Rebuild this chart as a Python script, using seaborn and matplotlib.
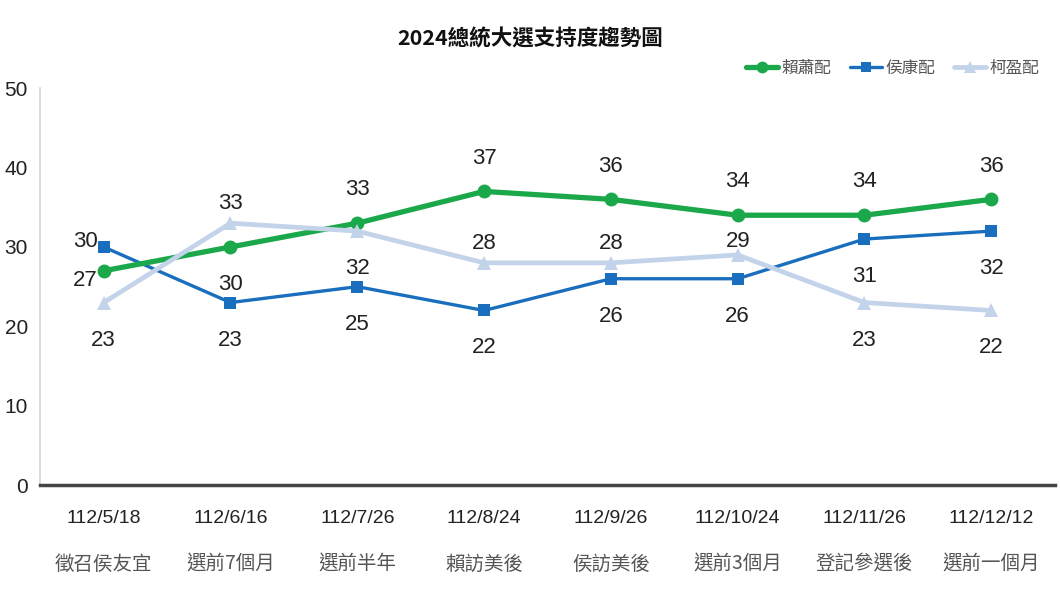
import numpy as np
import pandas as pd
import matplotlib
matplotlib.use('Agg')
import matplotlib.pyplot as plt
import matplotlib.transforms as mtransforms
import seaborn as sns

# data
dates = ['112/5/18', '112/6/16', '112/7/26', '112/8/24',
         '112/9/26', '112/10/24', '112/11/26', '112/12/12']
events = ['徵召侯友宜', '選前7個月', '選前半年', '賴訪美後',
          '侯訪美後', '選前3個月', '登記參選後', '選前一個月']
lai = [27, 30, 33, 37, 36, 34, 34, 36]
hou = [30, 23, 25, 22, 26, 26, 31, 32]
ko = [23, 33, 32, 28, 28, 29, 23, 22]
names = ['賴蕭配', '侯康配', '柯盈配']

sns.set_theme(style='white')
plt.rcParams['font.family'] = ['Liberation Sans', 'Noto Sans CJK TC']
cjk = ['Noto Sans CJK TC', 'DejaVu Sans']

green = '#1BA84A'
blue = '#1A6EBE'
light = '#C3D3E9'

df = pd.DataFrame({'pos': np.arange(len(dates)), names[0]: lai, names[1]: hou, names[2]: ko})

fig = plt.figure(figsize=(10.6, 5.96), dpi=100, facecolor='white')
ax = fig.add_axes([0.038, 0.186, 0.957, 0.666])

styles = {
    names[0]: dict(color=green, marker='o', linewidth=3.8, markersize=10, zorder=4),
    names[1]: dict(color=blue, marker='s', linewidth=2.4, markersize=9, zorder=3),
    names[2]: dict(color=light, marker='^', linewidth=3.4, markersize=10, zorder=5),
}
for n in [names[1], names[0], names[2]]:
    st = styles[n]
    sns.lineplot(data=df, x='pos', y=n, ax=ax, label=n, color=st['color'], marker=st['marker'],
                 linewidth=st['linewidth'], markersize=st['markersize'], markeredgewidth=0,
                 zorder=st['zorder'])

# label placement: 'a' above, 'b' below, 'm'/'s' slightly above, 'lu' left-up, 'ld' left-down
place = {
    names[0]: ['ld', 'b', 'a', 'a', 'a', 'a', 'a', 'a'],
    names[1]: ['lu', 'b', 'b', 'b', 'b', 'b', 'b', 'b'],
    names[2]: ['b', 'm', 'b', 'm', 'm', 's', 'b', 'b'],
}
offsets = {'a': (0, 24), 'm': (0, 14), 's': (0, 10), 'b': (0, -27),
           'lu': (-13, 4), 'ld': (-13, -7)}
for n in names:
    for i, v in enumerate(df[n]):
        ax.annotate(str(v), (i, v), xytext=offsets[place[n][i]], textcoords='offset points',
                    ha='center', va='center', fontsize=16, color='#222222', zorder=6)

ax.set_xlim(-0.5, 7.5)
ax.set_ylim(0, 50)
ax.set_yticks(range(0, 51, 10))
ax.set_xticks(range(len(dates)))
ax.set_xticklabels(dates, fontsize=14, color='#222222')
ax.tick_params(axis='x', length=0, pad=18)
ax.tick_params(axis='y', length=0, labelsize=15, labelcolor='#222222', pad=9)
ax.set_xlabel('')
ax.set_ylabel('')

trans = mtransforms.blended_transform_factory(ax.transData, ax.transAxes)
for i, e in enumerate(events):
    ax.text(i, -0.2, e, transform=trans, ha='center', va='center',
            fontsize=14, color='#555555', family=cjk)

for s in ['top', 'right']:
    ax.spines[s].set_visible(False)
ax.spines['left'].set_color('#D5D5D5')
ax.spines['left'].set_linewidth(1.2)
ax.spines['bottom'].set_color('#444444')
ax.spines['bottom'].set_linewidth(2.5)

h, l = ax.get_legend_handles_labels()
hl = dict(zip(l, h))
leg = ax.legend([hl[n] for n in names], names, loc='upper right', bbox_to_anchor=(1.0, 1.11),
                ncol=3, frameon=False, prop={'family': cjk, 'size': 12}, handlelength=1.9,
                columnspacing=1.1, handletextpad=0.25, markerscale=0.85)
for t in leg.get_texts():
    t.set_color('#555555')

fig.text(0.5, 0.935, '2024總統大選支持度趨勢圖', ha='center', va='center', fontsize=15.5,
         fontweight='bold', color='#111111', family=cjk)

fig.savefig('out.png', dpi=100, facecolor='white')
